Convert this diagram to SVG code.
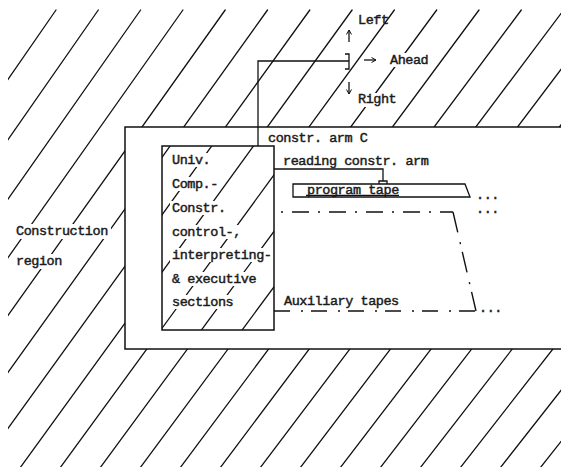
<svg xmlns="http://www.w3.org/2000/svg" xmlns:xlink="http://www.w3.org/1999/xlink" width="561" height="467" viewBox="0 0 561 467">
<style>
.hatch{fill:none;stroke:#111;stroke-width:1.3;stroke-linecap:round}
.box{fill:#fff;stroke:#111;stroke-width:1.5}
.ln{fill:none;stroke:#111;stroke-width:1.3}
.dd{fill:none;stroke:#111;stroke-width:1.4}
.t{font-family:"Liberation Mono","Courier New",monospace;font-size:13.5px;letter-spacing:-0.45px;fill:#1a1a1a;stroke:#1a1a1a;stroke-width:0.45}
.gap{fill:#fff;stroke:none}
</style>
<defs>
<path id="hl" class="hatch" d="M56,10L-262,470M98.3,10L-222,470M140.6,10L-182,470M182.9,10L-142,470M225.2,10L-102,470M267.5,10L-62,470M309.8,10L-22,470M352.1,10L18.5,470M394.4,10L58.5,470M436.7,10L98.5,470M479,10L138.5,470M521.3,10L178.5,470M563.6,10L218.5,470M605.9,10L258.5,470M648.2,10L298.5,470M690.5,10L338.5,470M732.8,10L378.5,470M775.1,10L418.5,470M817.4,10L458.5,470M859.7,10L498.5,470M902,10L538.5,470M944.3,10L578.5,470"/>
<clipPath id="cOut"><rect x="8" y="9" width="553" height="458"/></clipPath>
<clipPath id="cIn"><rect x="162" y="146" width="112" height="184"/></clipPath>
<marker id="ah" viewBox="0 0 6 6" refX="5" refY="3" markerWidth="6" markerHeight="6" markerUnits="userSpaceOnUse" orient="auto"><path d="M0.5,0.5L5,3L0.5,5.5" fill="none" stroke="#111" stroke-width="1"/></marker>
</defs>
<rect width="561" height="467" fill="#fff"/>
<g id="hatching">
<use xlink:href="#hl" clip-path="url(#cOut)"/>
</g>
<g id="construction-region">
<rect class="box" x="125" y="127" width="440" height="222"/>
<rect class="gap" x="14" y="224" width="97" height="15"/>
<rect class="gap" x="14" y="254" width="50" height="15"/>
<text class="t" x="16" y="235">Construction</text>
<text class="t" x="16" y="265">region</text>
</g>
<g id="univ-comp">
<use xlink:href="#hl" clip-path="url(#cIn)"/>
<rect class="gap" x="170" y="153" width="42" height="14"/>
<rect class="gap" x="170" y="177" width="49" height="14"/>
<rect class="gap" x="170" y="201" width="57" height="14"/>
<rect class="gap" x="170" y="225" width="72" height="14"/>
<rect class="gap" x="170" y="248" width="104" height="14"/>
<rect class="gap" x="170" y="272" width="88" height="14"/>
<rect class="gap" x="170" y="295" width="64" height="14"/>
<text class="t" x="172" y="164">Univ.</text>
<text class="t" x="172" y="188">Comp.-</text>
<text class="t" x="172" y="212">Constr.</text>
<text class="t" x="172" y="236">control-,</text>
<text class="t" x="172" y="259">interpreting-</text>
<text class="t" x="172" y="283">&amp; executive</text>
<text class="t" x="172" y="306">sections</text>
<rect x="162" y="146" width="112" height="184" fill="none" stroke="#111" stroke-width="1.5"/>
</g>
<g id="directions">
<rect class="gap" x="389" y="53" width="41" height="14"/>
<rect class="gap" x="357" y="93" width="40" height="14"/>
<text class="t" x="358" y="24">Left</text>
<text class="t" x="390" y="64">Ahead</text>
<text class="t" x="358" y="103">Right</text>
</g>
<g id="program-tape">
<path class="ln" d="M293,184H465L470,197H293Z"/>
<line class="ln" x1="306" y1="195.3" x2="399" y2="195.3" stroke-width="1"/>
<text class="t" x="307" y="194">program tape</text>
<text class="t" x="476" y="199">...</text>
</g>
<g id="aux-tapes">
<text class="t" x="476" y="213">...</text>
<text class="t" x="284" y="305">Auxiliary tapes</text>
<text class="t" x="479" y="312">...</text>
</g>
<g id="labels">
<text class="t" x="268" y="142">constr. arm C</text>
<text class="t" x="283" y="165">reading constr. arm</text>
</g>
<g id="connectors">
<path class="ln" d="M258,146V61H349"/>
<path class="ln" d="M345,54H349V69H345"/>
<line class="ln" x1="349" y1="42" x2="349" y2="30" marker-end="url(#ah)"/>
<line class="ln" x1="364" y1="60" x2="376" y2="60" marker-end="url(#ah)"/>
<line class="ln" x1="349" y1="82" x2="349" y2="94" marker-end="url(#ah)"/>
<path class="ln" d="M274,169H383V181M379,184V181H387V184"/>
<path class="dd" d="M281,212H453" stroke-dasharray="2 9 17 9"/>
<path class="dd" d="M453,212L476,311" stroke-dasharray="21 10 2 8"/>
<path class="dd" d="M274,311H476" stroke-dasharray="16 11 2 8"/>
</g>
</svg>
